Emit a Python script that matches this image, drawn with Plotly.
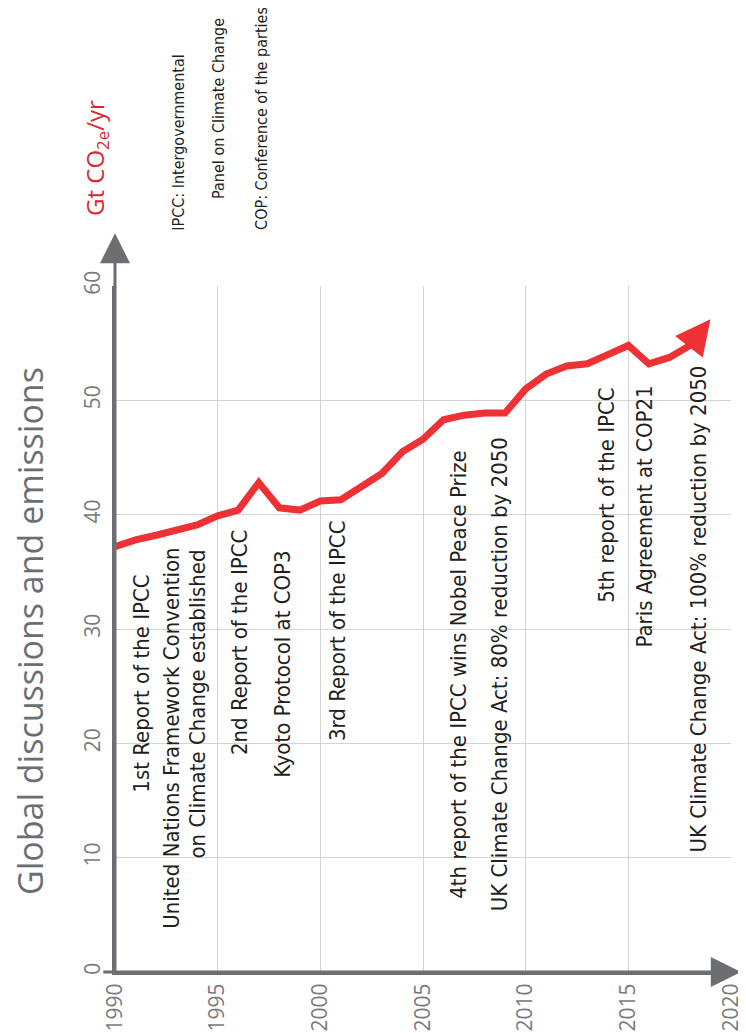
import plotly.graph_objects as go

years = list(range(1990, 2020))
emissions = [37.2, 37.8, 38.2, 38.6, 39.1, 39.9, 40.4, 42.8, 40.6, 40.4,
             41.2, 41.3, 42.4, 43.6, 45.5, 46.6, 48.3, 48.7, 48.9, 48.9,
             51.0, 52.3, 53.0, 53.2, 54.0, 54.8, 53.2, 53.75, 54.8, 57.1]

x_ticks = [1990, 1995, 2000, 2005, 2010, 2015, 2020]
y_ticks = [0, 10, 20, 30, 40, 50, 60]

# event labels: (text, x position in years, top end of text in Gt)
events = [
    ("1st Report of the IPCC", 1991.29, 34.97),
    ("United Nations Framework Convention", 1992.77, 37.32),
    ("on Climate Change established", 1994.03, 37.15),
    ("2nd Report of the IPCC", 1996.10, 38.81),
    ("Kyoto Protocol at COP3", 1998.18, 37.06),
    ("3rd Report of the IPCC", 2000.87, 39.68),
    ("4th report of the IPCC wins Nobel Peace Prize", 2006.69, 45.87),
    ("UK Climate Change Act: 80% reduction by 2050", 2008.74, 46.92),
    ("5th report of the IPCC", 2013.94, 51.28),
    ("Paris Agreement at COP21", 2015.80, 51.45),
    ("UK Climate Change Act: 100% reduction by 2050", 2018.40, 53.2),
]

notes = [
    ("IPCC: Intergovernmental", 0.104, 1.077),
    ("Panel on Climate Change", 0.168, 1.124),
    ("COP: Conference of the parties", 0.238, 1.079),
]

RED = "#ee3134"
GREY = "#6d6e71"
NARROW = "Liberation Sans Narrow, DejaVu Sans Condensed, Arial Narrow, sans-serif"

fig = go.Figure()
fig.add_trace(go.Scatter(
    x=years[:-1], y=emissions[:-1], mode="lines",
    line=dict(color=RED, width=7), hoverinfo="skip", showlegend=False,
))

annotations = []
annotations.append(dict(
    x=years[-1], y=emissions[-1], xref="x", yref="y",
    ax=years[-2], ay=emissions[-2], axref="x", ayref="y",
    showarrow=True, arrowhead=2, arrowsize=1.0, arrowwidth=7,
    arrowcolor=RED, text="", standoff=0,
))
annotations.append(dict(
    x=0, y=1.077, xref="paper", yref="paper", ax=0, ay=741,
    showarrow=True, arrowhead=2, arrowsize=2, arrowwidth=3,
    arrowcolor=GREY, text="",
))
annotations.append(dict(
    x=1.0159, y=0, xref="paper", yref="paper", ax=-639, ay=0,
    showarrow=True, arrowhead=2, arrowsize=2, arrowwidth=3,
    arrowcolor=GREY, text="",
))

for text, xv, yt in events:
    annotations.append(dict(
        x=xv, y=yt, xref="x", yref="y", text=text, showarrow=False,
        textangle=-90, xanchor="center", yanchor="top",
        font=dict(family=NARROW, size=22, color="#231f20"),
    ))

for text, xp, yp in notes:
    annotations.append(dict(
        x=xp, y=yp, xref="paper", yref="paper", text=text, showarrow=False,
        textangle=-90, xanchor="center", yanchor="bottom",
        font=dict(family=NARROW, size=16, color="#231f20"),
    ))

annotations.append(dict(
    x=-0.138, y=0.497, xref="paper", yref="paper",
    text="Global discussions and emissions", showarrow=False,
    textangle=-90, xanchor="center", yanchor="middle",
    font=dict(family="Open Sans, sans-serif", size=34, color="#6d6e71"),
))
annotations.append(dict(
    x=-0.030, y=1.186, xref="paper", yref="paper",
    text="Gt CO<sub>2e</sub>/yr", showarrow=False,
    textangle=-90, xanchor="center", yanchor="middle",
    font=dict(family="Open Sans, sans-serif", size=24, color="#d7282f"),
))

axis_common = dict(
    tickangle=-90, showgrid=True, gridcolor="#d4d4d4", gridwidth=1,
    showline=True, linecolor=GREY, linewidth=3, zeroline=False,
    ticks="", ticklabeloverflow="allow",
    tickfont=dict(family="Open Sans, sans-serif", size=21, color="#7a7a7a"),
    fixedrange=True,
)

fig.update_layout(
    width=746, height=1033, autosize=False,
    margin=dict(l=107, r=10, t=278, b=67),
    plot_bgcolor="white", paper_bgcolor="white",
    annotations=annotations,
    xaxis=dict(range=[1990, 2020], tickvals=x_ticks,
               ticktext=[str(v) for v in x_ticks], ticklabelstandoff=0,
               **axis_common),
    yaxis=dict(range=[0, 60], tickvals=y_ticks,
               ticktext=[str(v) for v in y_ticks], ticklabelstandoff=4,
               **axis_common),
)

fig.write_html("out.html")
